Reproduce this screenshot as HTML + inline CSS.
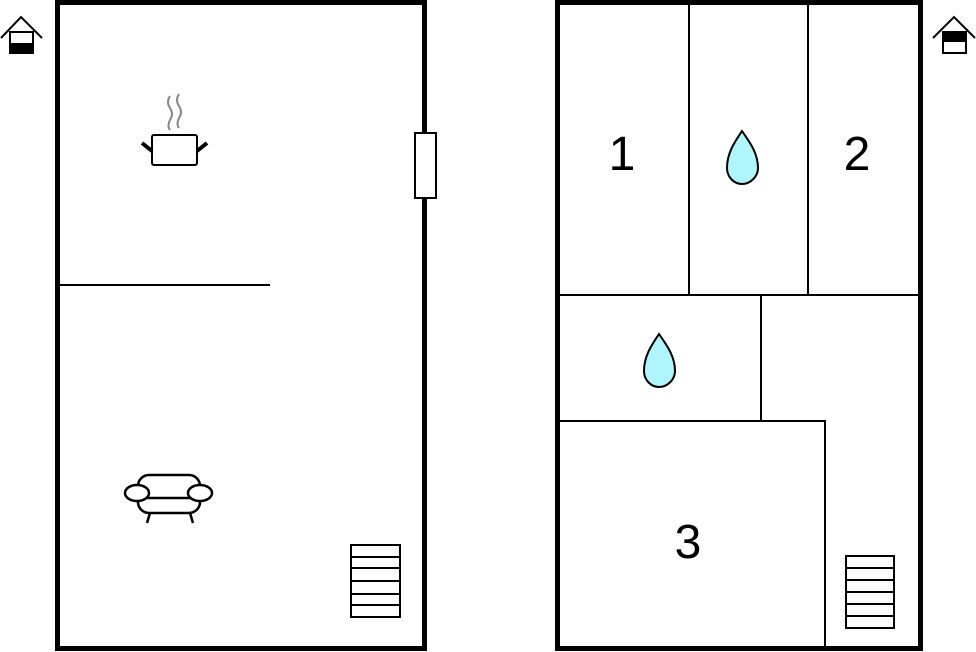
<!DOCTYPE html>
<html><head><style>html,body{margin:0;padding:0;background:#fff}svg{display:block}</style></head>
<body>
<svg width="976" height="652" viewBox="0 0 976 652" xmlns="http://www.w3.org/2000/svg" font-family="Liberation Sans, sans-serif">
<g stroke="#000" stroke-width="2" fill="none">
<polyline points="1,38 21,17 42,38"/>
<rect x="10" y="32" width="23" height="21" fill="#fff"/>
</g>
<rect x="9" y="43" width="25" height="11" fill="#000"/>
<g stroke="#000" stroke-width="2" fill="none">
<polyline points="933,38 954,17 975,38"/>
<rect x="943" y="32" width="23" height="21" fill="#fff"/>
</g>
<rect x="942" y="31" width="25" height="11" fill="#000"/>

<rect x="57.5" y="2.5" width="367" height="646" fill="none" stroke="#000" stroke-width="5"/>
<line x1="58" y1="285" x2="270" y2="285" stroke="#000" stroke-width="2"/>
<rect x="415" y="133" width="21" height="65" fill="#fff" stroke="#000" stroke-width="2"/>
<g stroke="#888" stroke-width="2" fill="none">
<path d="M170,96 q-4,6 0,12 q4,6 0,12 q-3,6 0,10"/>
<path d="M179,94 q-4,6 0,12 q4,6 0,12 q-3,6 0,10"/>
</g>
<rect x="152" y="135" width="45" height="30" rx="2" fill="#fff" stroke="#000" stroke-width="2"/>
<line x1="142" y1="143" x2="152" y2="151" stroke="#000" stroke-width="4"/>
<line x1="207" y1="143" x2="197" y2="151" stroke="#000" stroke-width="4"/>
<g stroke="#000" stroke-width="2.5" fill="#fff">
<rect x="138" y="475" width="62" height="38" rx="11"/>
<line x1="146" y1="498" x2="191" y2="498"/>
<ellipse cx="137" cy="493" rx="12" ry="8"/>
<ellipse cx="200" cy="493" rx="12" ry="8"/>
<line x1="150" y1="513" x2="147" y2="523"/>
<line x1="190" y1="513" x2="193" y2="523"/>
</g>
<g stroke="#000" stroke-width="2" fill="none">
<rect x="351" y="545" width="49" height="72"/>
<line x1="351" y1="557" x2="400" y2="557"/>
<line x1="351" y1="568" x2="400" y2="568"/>
<line x1="351" y1="581" x2="400" y2="581"/>
<line x1="351" y1="594" x2="400" y2="594"/>
<line x1="351" y1="605" x2="400" y2="605"/>
</g>

<rect x="557.5" y="2.5" width="363" height="646" fill="none" stroke="#000" stroke-width="5"/>
<g stroke="#000" stroke-width="2">
<line x1="558" y1="295" x2="920" y2="295"/>
<line x1="689" y1="3" x2="689" y2="295"/>
<line x1="808" y1="3" x2="808" y2="295"/>
<line x1="761" y1="295" x2="761" y2="421"/>
<line x1="558" y1="421" x2="826" y2="421"/>
<line x1="825" y1="421" x2="825" y2="648"/>
</g>
<g fill="#aef6fb" stroke="#000" stroke-width="2">
<path d="M742,131 C736,140 727,152 727,168 C727,177 734,184 742,184 C750,184 758,177 758,168 C758,152 748,140 742,131 Z"/>
<path d="M659,334 C653,343 644,355 644,371 C644,380 651,387 659,387 C667,387 675,380 675,371 C675,355 665,343 659,334 Z"/>
</g>
<text x="622" y="170" font-size="48" text-anchor="middle">1</text>
<text x="857" y="170" font-size="48" text-anchor="middle">2</text>
<text x="688" y="558" font-size="48" text-anchor="middle">3</text>
<g stroke="#000" stroke-width="2" fill="none">
<rect x="846" y="556" width="48" height="72"/>
<line x1="846" y1="568" x2="894" y2="568"/>
<line x1="846" y1="580" x2="894" y2="580"/>
<line x1="846" y1="592" x2="894" y2="592"/>
<line x1="846" y1="604" x2="894" y2="604"/>
<line x1="846" y1="616" x2="894" y2="616"/>
</g>
</svg>
</body></html>
